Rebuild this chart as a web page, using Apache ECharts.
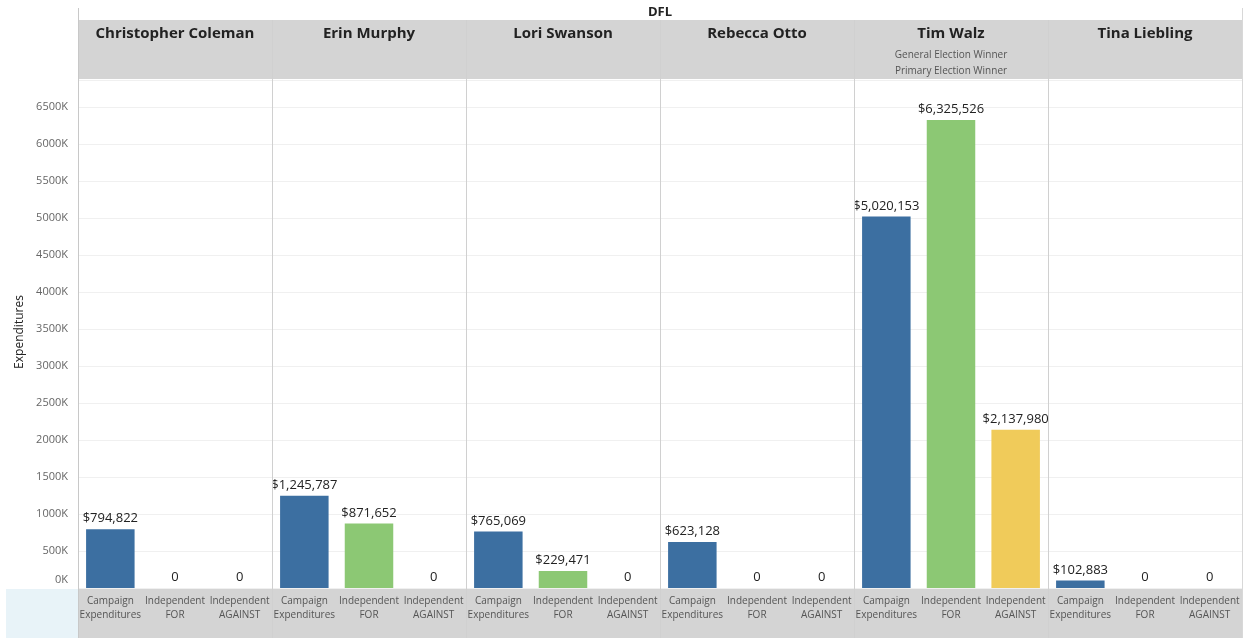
<!DOCTYPE html>
<html>
<head>
<meta charset="utf-8">
<script src="https://cdn.jsdelivr.net/npm/echarts@6/dist/echarts.min.js"></script>
<style>
html,body{margin:0;padding:0;background:#fff;}
#main{width:1246px;height:638px;}
</style>
</head>
<body>
<div id="main"></div>
<script>
var candidates = ['Christopher Coleman', 'Erin Murphy', 'Lori Swanson', 'Rebecca Otto', 'Tim Walz', 'Tina Liebling'];
var categories = ['Campaign\nExpenditures', 'Independent\nFOR', 'Independent\nAGAINST'];
var campaignExp = [794822, 1245787, 765069, 623128, 5020153, 102883];
var independentFor = [0, 871652, 229471, 0, 6325526, 0];
var independentAgainst = [0, 0, 0, 0, 2137980, 0];
var subtitles = [[], [], [], [], ['General Election Winner', 'Primary Election Winner'], []];
var yMax = 6865000;
var yStep = 500000;

var barColors = ['#3c6fa1', '#8cc874', '#f0cb5a'];
var fontFam = '"Open Sans", "Noto Sans", sans-serif';

var left0 = 78, panelW = 194, plotTop = 80, plotBottom = 588;

var myChart = echarts.init(document.getElementById('main'));

var grids = [], xAxes = [], yAxes = [], series = [], graphics = [];

// header band + label band
graphics.push({type: 'rect', z: -10, shape: {x: left0, y: 20, width: panelW * 6, height: 59}, style: {fill: '#d4d4d4'}});
graphics.push({type: 'rect', z: -10, shape: {x: left0, y: plotBottom, width: panelW * 6, height: 50}, style: {fill: '#d4d4d4'}});
graphics.push({type: 'rect', z: -10, shape: {x: 6, y: plotBottom + 1, width: left0 - 6, height: 49}, style: {fill: '#e8f3f8'}});
graphics.push({type: 'text', z: 5, x: left0 + panelW * 3, y: 12, style: {text: 'DFL', font: 'bold 13px ' + fontFam, fill: '#222', align: 'center', verticalAlign: 'middle'}});
graphics.push({type: 'line', z: 5, shape: {x1: left0 + 0.5, y1: 8, x2: left0 + 0.5, y2: 638}, style: {stroke: '#c8c8c8', lineWidth: 1}});
graphics.push({type: 'line', z: 5, shape: {x1: left0 + panelW * 6 + 0.5, y1: 8, x2: left0 + panelW * 6 + 0.5, y2: 638}, style: {stroke: '#d8d8d8', lineWidth: 1}});
graphics.push({type: 'text', z: 5, x: 20, y: 332, rotation: Math.PI / 2, style: {text: 'Expenditures', font: '12px ' + fontFam, fill: '#222', align: 'center', verticalAlign: 'middle'}});

candidates.forEach(function (name, i) {
    var gl = left0 + i * panelW;
    grids.push({left: gl, width: panelW, top: plotTop, height: plotBottom - plotTop});
    xAxes.push({
        type: 'category', gridIndex: i, data: categories,
        axisLine: {show: false}, axisTick: {show: false},
        axisLabel: {interval: 0, fontSize: 10, lineHeight: 14, color: '#555', margin: 6, fontFamily: fontFam}
    });
    yAxes.push({
        type: 'value', gridIndex: i, min: 0, max: yMax, interval: yStep,
        axisLine: {show: false}, axisTick: {show: false},
        splitLine: {lineStyle: {color: '#f0f0f0'}},
        axisLabel: {
            show: i === 0, fontSize: 11, color: '#666', margin: 10, fontFamily: fontFam,
            showMaxLabel: false,
            formatter: function (v) { return v === 0 ? '{z|0K}' : (v / 1000) + 'K'; },
            rich: {z: {fontSize: 11, color: '#666', padding: [0, 0, 16, 0], fontFamily: fontFam}}
        }
    });
    var vals = [campaignExp[i], independentFor[i], independentAgainst[i]];
    series.push({
        type: 'bar', xAxisIndex: i, yAxisIndex: i, barWidth: '75%',
        data: vals.map(function (v, k) { return {value: v, itemStyle: {color: barColors[k]}}; }),
        label: {
            show: true, position: 'top', distance: 4, fontSize: 13, color: '#222', fontFamily: fontFam,
            formatter: function (p) { return p.value === 0 ? '0' : '$' + p.value.toLocaleString('en-US'); }
        }
    });
    if (i > 0) {
        graphics.push({type: 'line', z: 5, shape: {x1: gl + 0.5, y1: 20, x2: gl + 0.5, y2: 638}, style: {stroke: '#d0d0d0', lineWidth: 1}});
    }
    graphics.push({type: 'text', z: 5, x: gl + panelW / 2, y: 34, style: {text: name, font: 'bold 15px ' + fontFam, fill: '#222', align: 'center', verticalAlign: 'middle'}});
    subtitles[i].forEach(function (s, k) {
        graphics.push({type: 'text', z: 5, x: gl + panelW / 2, y: 55 + k * 16, style: {text: s, font: '10px ' + fontFam, fill: '#555', align: 'center', verticalAlign: 'middle'}});
    });
});

var option = {
    animation: false,
    grid: grids,
    xAxis: xAxes,
    yAxis: yAxes,
    series: series,
    graphic: graphics
};
myChart.setOption(option);
</script>
</body>
</html>
